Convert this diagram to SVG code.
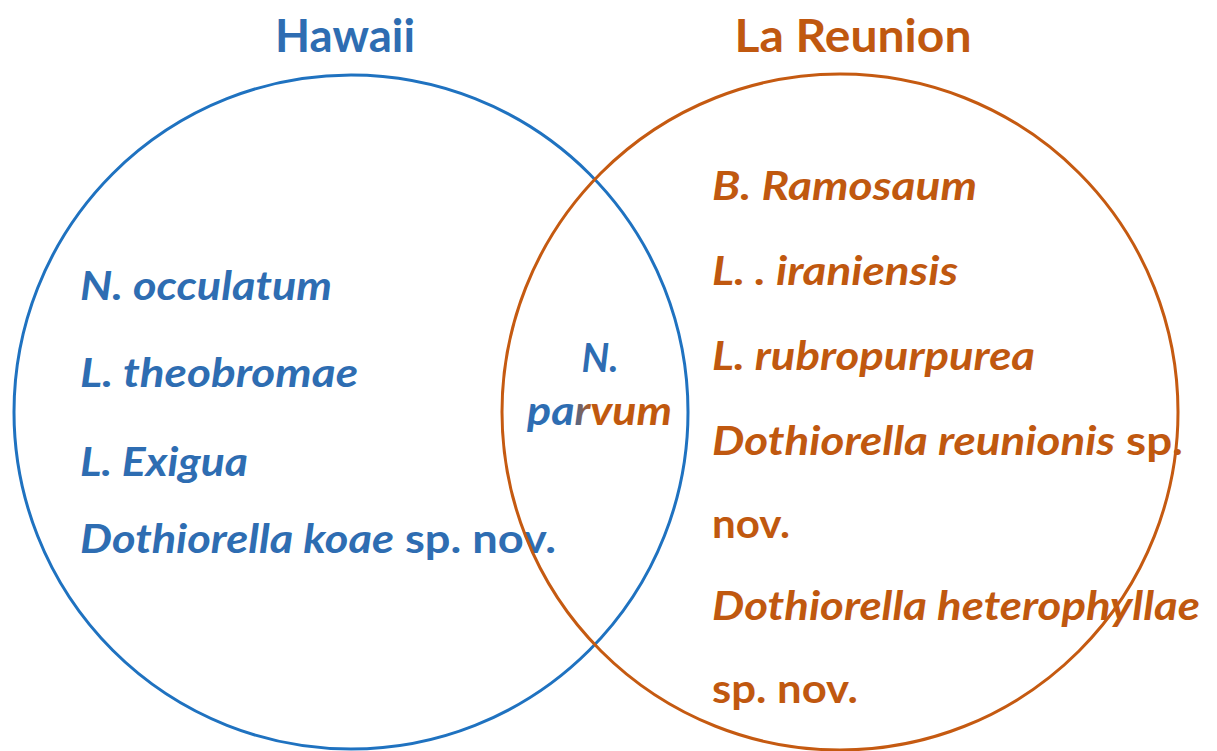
<svg xmlns="http://www.w3.org/2000/svg" width="1217" height="751" viewBox="0 0 1217 751">
<style>
.ring{fill:none;stroke-width:3}
.blue-ring{stroke:#1F72C0}
.orange-ring{stroke:#C55A11}
.t{font-family:Lato,"Open Sans","Liberation Sans",sans-serif;font-weight:bold}
.title{font-size:46px}
.item{font-size:41px;font-style:italic}
.up{font-style:normal}
.b{fill:#2E6DB2}
.o{fill:#C0580F}
</style>
<defs>
<linearGradient id="parv" gradientUnits="userSpaceOnUse" x1="527" y1="0" x2="672" y2="0">
<stop offset="0" stop-color="#2E6DB2"/>
<stop offset="0.3" stop-color="#2E6DB2"/>
<stop offset="0.45" stop-color="#C0580F"/>
<stop offset="1" stop-color="#C0580F"/>
</linearGradient>
</defs>
<rect width="1217" height="751" fill="#FFFFFF"/>
<g id="hawaii">
<text class="t title b" x="345" y="52" text-anchor="middle" textLength="140" lengthAdjust="spacingAndGlyphs">Hawaii</text>
<text class="t item b" x="80" y="300" textLength="252" lengthAdjust="spacingAndGlyphs">N. occulatum</text>
<text class="t item b" x="80" y="387" textLength="278" lengthAdjust="spacingAndGlyphs">L. theobromae</text>
<text class="t item b" x="80" y="476" textLength="168" lengthAdjust="spacingAndGlyphs">L. Exigua</text>
<text class="t item b" x="80" y="553" textLength="476" lengthAdjust="spacingAndGlyphs">Dothiorella koae<tspan class="up"> sp. nov.</tspan></text>
<circle class="ring blue-ring" cx="351" cy="412" r="337"/>
</g>
<g id="la-reunion">
<text class="t title o" x="853" y="52" text-anchor="middle" textLength="237" lengthAdjust="spacingAndGlyphs">La Reunion</text>
<text class="t item o" x="712" y="200" textLength="265" lengthAdjust="spacingAndGlyphs">B. Ramosaum</text>
<text class="t item o" x="712" y="285" textLength="246" lengthAdjust="spacingAndGlyphs">L. . iraniensis</text>
<text class="t item o" x="712" y="370" textLength="323" lengthAdjust="spacingAndGlyphs">L. rubropurpurea</text>
<text class="t item o" x="712" y="455" textLength="471" lengthAdjust="spacingAndGlyphs">Dothiorella reunionis<tspan class="up"> sp.</tspan></text>
<text class="t item o up" x="712" y="538" textLength="78" lengthAdjust="spacingAndGlyphs">nov.</text>
<text class="t item o" x="712" y="620" textLength="488" lengthAdjust="spacingAndGlyphs">Dothiorella heterophyllae</text>
<text class="t item o up" x="712" y="703" textLength="146" lengthAdjust="spacingAndGlyphs">sp. nov.</text>
<circle class="ring orange-ring" cx="840" cy="412" r="338"/>
</g>
<g id="overlap">
<text class="t item b" x="600" y="372" text-anchor="middle" textLength="37" lengthAdjust="spacingAndGlyphs">N.</text>
<text class="t item" x="527" y="425" textLength="145" lengthAdjust="spacingAndGlyphs" fill="url(#parv)">parvum</text>
</g>
<g id="connectors"/>
</svg>
